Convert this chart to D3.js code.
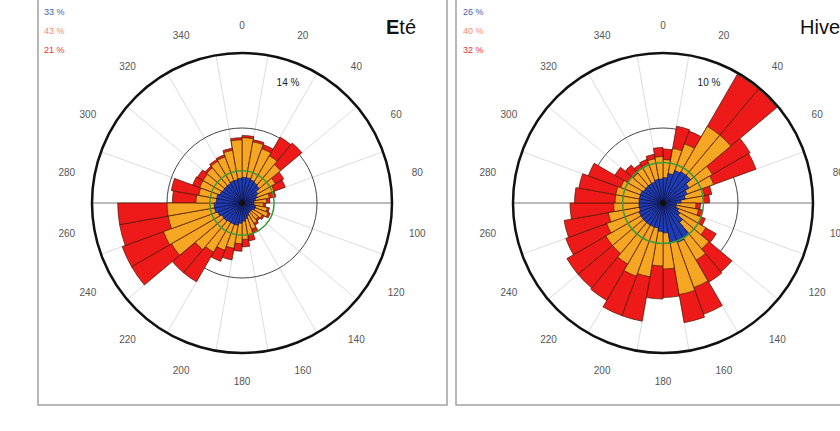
<!DOCTYPE html>
<html><head><meta charset="utf-8">
<script src="https://cdn.jsdelivr.net/npm/d3@7"></script>
<style>body{margin:0;background:#fff}svg{display:block}</style>
</head><body>
<svg id="c" width="840" height="431"></svg>
<script>
// direction bins (start angle of each 10° sector)
const directions = d3.range(0, 360, 10);
const angleLabels = d3.range(0, 360, 20);

// Eté (summer) – percent per class
const eteLow  = [2.4,2.4,2.3,2.2,2.1,1.7,1.5,1.3,1.1,1.1,1.3,1.3,1.1,1.1,1.1,1.3,1.5,1.7,1.9,2.1,2.1,2.1,2.2,2.2,2.4,2.6,2.6,2.4,2.4,2.2,2.1,2.1,2.1,2.2,2.2,2.3];
const eteMid  = [3.7,3.4,3.1,2.9,2.6,1.9,1.7,1.3,1.2,0.9,1.1,1.3,1.1,0.9,1.1,1.3,1.5,1.7,1.9,2.2,2.6,3.2,3.5,5.4,5.4,4.4,4.4,1.9,1.7,2.0,2.1,2.2,2.4,2.4,2.8,3.6];
const eteHigh = [0.2,0.2,0.4,2.0,2.6,0.9,1.1,0.6,0.3,0.2,0.2,0.2,0.2,0.2,0.2,0.4,0.6,0.7,0.7,1.1,1.1,3.2,2.8,4.3,4.1,4.6,4.6,2.2,2.6,0.7,0.6,0.2,0.2,0.2,0.2,0.2];

// Hiver (winter)
const hivLow  = [1.7,2.0,2.3,2.4,2.4,2.0,1.7,1.5,1.2,0.9,0.9,1.1,1.3,1.7,2.7,2.8,2.7,2.0,1.9,1.7,1.7,1.7,1.7,1.7,1.7,1.6,1.6,1.6,1.6,1.6,1.5,1.5,1.5,1.5,1.6,1.6];
const hivMid  = [1.2,1.7,1.9,3.5,3.5,1.8,1.9,1.3,1.5,1.3,1.5,1.6,2.0,2.3,1.7,3.2,3.5,2.4,2.3,3.3,3.5,3.0,2.7,2.7,2.3,2.1,1.7,1.6,1.6,1.4,1.2,1.1,1.2,1.3,1.4,1.5];
const hivHigh = [0.7,1.5,0.9,4.0,4.0,2.9,3.0,0.5,0.4,0.3,0.3,0.3,0.8,2.0,1.7,1.9,1.9,1.9,2.2,3.0,2.8,2.8,3.0,3.0,2.9,3.0,2.9,2.7,2.5,2.3,1.0,0.7,0.3,0.3,0.3,0.6];

const panels = [
  {title:"Eté", cx:242, cy:203, maxPct:14, ringLabel:"14 %", calm:3.0,
   low:eteLow, mid:eteMid, high:eteHigh, legend:["33 %","43 %","21 %"],
   frame:[38,-5,409,410], legendX:44, titleX:386},
  {title:"Hiver", cx:663, cy:203, maxPct:10, ringLabel:"10 %", calm:2.7,
   low:hivLow, mid:hivMid, high:hivHigh, legend:["26 %","40 %","32 %"],
   frame:[456,-5,420,410], legendX:463, titleX:800}
];

const colors = ["#1f3cb4","#f5a623","#ee1a1a"];
const legendColors = ["#4860a8","#f08a6a","#e83030"];
const R = 150;
const svg = d3.select("#c");
const toRad = d => d * Math.PI / 180;

panels.forEach(p => {
  const g = svg.append("g");
  g.append("rect").attr("x", p.frame[0]).attr("y", p.frame[1])
    .attr("width", p.frame[2]).attr("height", p.frame[3])
    .attr("fill", "none").attr("stroke", "#a0a0a0").attr("stroke-width", 1.5);

  const r = d3.scaleLinear().domain([0, p.maxPct]).range([0, R]);
  const c = g.append("g").attr("transform", `translate(${p.cx},${p.cy})`);

  // spokes at sector boundaries
  c.selectAll("line.spoke").data(d3.range(10, 360, 20)).join("line")
    .attr("x1", 0).attr("y1", 0)
    .attr("x2", d => R * Math.sin(toRad(d))).attr("y2", d => -R * Math.cos(toRad(d)))
    .attr("stroke", "#dcdcdc").attr("stroke-width", 1);
  c.append("line").attr("x1", -R).attr("x2", R).attr("y1", 0).attr("y2", 0)
    .attr("stroke", "#8a8a8a").attr("stroke-width", 1);
  c.append("circle").attr("r", r(p.maxPct / 2)).attr("fill", "none")
    .attr("stroke", "#444").attr("stroke-width", 1);

  // stacked bars
  const rows = directions.map((a, i) => {
    const v = [p.low[i], p.mid[i], p.high[i]];
    let acc = 0;
    return v.map((val, k) => { const s = {a, k, r0: acc, r1: acc + val}; acc += val; return s; });
  });
  const arc = d3.arc()
    .innerRadius(d => r(d.r0)).outerRadius(d => r(d.r1))
    .startAngle(d => toRad(d.a)).endAngle(d => toRad(d.a + 10));
  // draw outer classes first so that the inner ones sit on top
  [2, 1, 0].forEach(k => {
    c.selectAll(null).data(rows.map(rw => ({...rw[k], r0: 0}))).join("path")
      .attr("d", arc).attr("fill", colors[k])
      .attr("stroke", k === 0 ? "#101850" : "#4a1500").attr("stroke-width", 0.7);
  });

  // calm / first-class ring
  c.append("circle").attr("r", r(p.calm)).attr("fill", "none")
    .attr("stroke", "#3a9a3a").attr("stroke-width", 1.5);
  c.append("circle").attr("r", 3).attr("fill", "#111");

  // outer circle
  c.append("circle").attr("r", R).attr("fill", "none")
    .attr("stroke", "#111").attr("stroke-width", 2.5);

  // angle labels
  c.selectAll("text.ang").data(angleLabels).join("text")
    .attr("x", d => 178 * Math.sin(toRad(d)))
    .attr("y", d => -178 * Math.cos(toRad(d)))
    .attr("dy", "0.35em").attr("text-anchor", "middle")
    .attr("font-family", "Liberation Sans, Arial, sans-serif")
    .attr("font-size", 10).attr("fill", "#555").text(d => d);

  // ring label
  c.append("text").attr("x", 46).attr("y", -121).attr("dy", "0.35em")
    .attr("text-anchor", "middle").attr("font-family", "Liberation Sans, Arial, sans-serif")
    .attr("font-size", 10).attr("fill", "#222").text(p.ringLabel);

  // legend
  g.selectAll("text.leg").data(p.legend).join("text")
    .attr("x", p.legendX).attr("y", (d, i) => 15 + i * 19)
    .attr("font-family", "Liberation Sans, Arial, sans-serif")
    .attr("font-size", 9).attr("fill", (d, i) => legendColors[i]).text(d => d);

  // title
  const t = g.append("text").attr("x", p.titleX).attr("y", 34)
    .attr("font-family", "Liberation Sans, Arial, sans-serif")
    .attr("font-size", 20).attr("fill", "#111");
  if (p.title === "Eté") {
    t.append("tspan").attr("font-weight", "bold").text("E");
    t.append("tspan").text("té");
  } else {
    t.text(p.title);
  }
});
</script>
</body></html>
